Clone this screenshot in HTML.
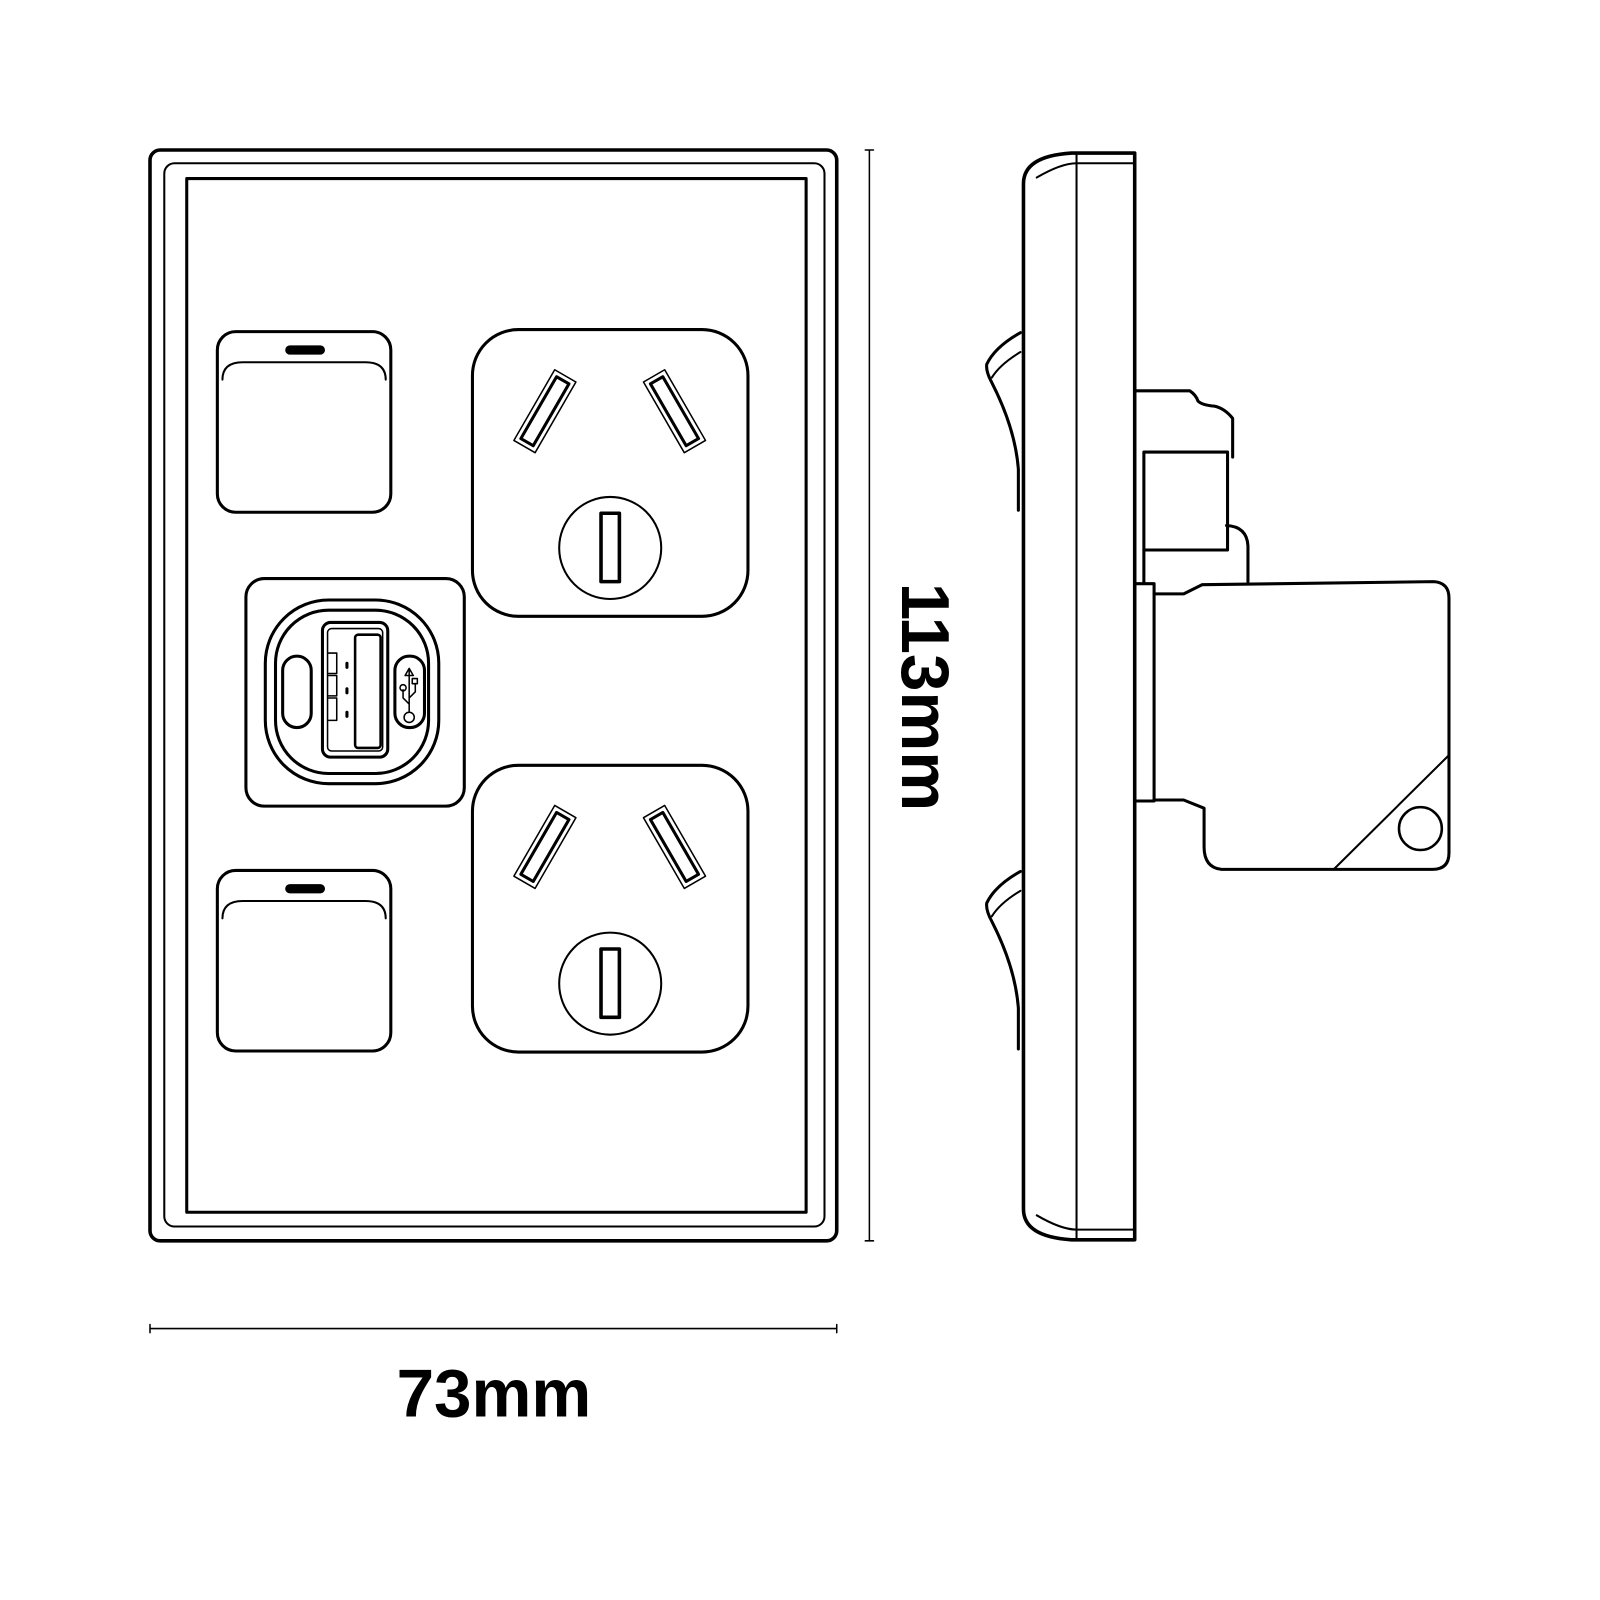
<!DOCTYPE html>
<html><head><style>html,body{margin:0;padding:0;background:#fff}svg{display:block}</style></head>
<body>
<svg width="1600" height="1600" viewBox="0 0 1568 1568" xmlns="http://www.w3.org/2000/svg" fill="none" stroke="#000" stroke-linejoin="round" stroke-linecap="round">
<!-- plate -->
<rect x="147" y="147" width="673" height="1069" rx="10" stroke-width="3.5"/>
<rect x="161" y="160" width="647" height="1042" rx="10" stroke-width="2"/>
<rect x="183" y="175" width="607" height="1013" stroke-width="3"/>
<!-- switches -->
<g id="sw">
<rect x="213" y="325" width="170" height="177" rx="18" stroke-width="3"/>
<path d="M218 372 Q218 355 238 355 L358 355 Q378 355 378 372" stroke-width="2"/>
<rect x="280" y="339" width="38" height="8" rx="4" fill="#000"/>
</g>
<use href="#sw" y="528"/>
<!-- sockets -->
<g id="so">
<rect x="463" y="323" width="270" height="281" rx="45" stroke-width="3"/>
<g transform="translate(534,403) rotate(30)"><rect x="-12" y="-40" width="24" height="80" stroke-width="1.5"/><rect x="-7" y="-35" width="14" height="70" stroke-width="3"/></g>
<g transform="translate(661,403) rotate(-30)"><rect x="-12" y="-40" width="24" height="80" stroke-width="1.5"/><rect x="-7" y="-35" width="14" height="70" stroke-width="3"/></g>
<circle cx="598" cy="537" r="50" stroke-width="2"/>
<rect x="589" y="503" width="18" height="67" stroke-width="3.5"/>
</g>
<use href="#so" y="427"/>
<!-- USB -->
<rect x="241" y="567" width="214" height="223" rx="18" stroke-width="3"/>
<rect x="260" y="588" width="170" height="180" rx="62" stroke-width="3"/>
<rect x="270" y="598" width="150" height="160" rx="52" stroke-width="3"/>
<rect x="277" y="643" width="28" height="70" rx="14" stroke-width="3"/>
<rect x="316" y="610" width="64" height="132" rx="8" stroke-width="3"/>
<rect x="321" y="616" width="54" height="120" rx="4" stroke-width="1.5"/>
<rect x="348" y="622" width="25" height="111" rx="3" stroke-width="2.5"/>
<path d="M322 640h8v20h-8M322 662h8v20h-8M322 684h8v22h-8" stroke-width="1.5"/>
<path d="M340 650v4M340 675v4M340 698v4" stroke-width="3"/>
<rect x="387" y="643" width="29" height="70" rx="14" stroke-width="3"/>
<path d="M401 655v43M397 662l4-7 4 7zM401 690l-6-6v-8M401 684l6-6v-8" stroke-width="1.5"/>
<circle cx="395" cy="674" r="3" stroke-width="1.5"/><rect x="404" y="665" width="5" height="5" stroke-width="1.5"/><circle cx="401" cy="703" r="5" stroke-width="1.5"/>
<!-- side view -->
<path d="M1003 1185 V180 Q1003 153 1050 150 H1112 V1215 H1050 Q1003 1212 1003 1185" stroke-width="3.5"/>
<path d="M1055 150 V1215" stroke-width="2"/>
<path d="M1016 174 Q1040 160 1055 160 H1112" stroke-width="2"/>
<path d="M1016 1191 Q1040 1205 1055 1205 H1112" stroke-width="2"/>
<g id="rk"><path d="M1000 326 Q975 340 967 357 Q966 364 972 375 Q995 420 998 460 V500" stroke-width="3"/>
<path d="M1000 345 Q980 357 972 370" stroke-width="2"/></g>
<use href="#rk" y="528"/>
<path d="M1112 383 H1166 Q1172 387 1174 393 Q1178 397 1190 398 Q1200 400 1208 410 V448" stroke-width="3"/>
<rect x="1121" y="443" width="82" height="96" stroke-width="3"/>
<path d="M1202 515 Q1222 516 1223 535 V570" stroke-width="3"/>
<path d="M1121 539 V570" stroke-width="3"/>
<rect x="1112" y="572" width="19" height="213" stroke-width="3"/>
<path d="M1131 582 H1160 L1178 573 L1405 570 Q1420 571 1420 586 V836 Q1420 852 1404 852 H1197 Q1180 850 1180 830 V792 L1160 784 H1131" stroke-width="3"/>
<path d="M1307 852 L1420 740" stroke-width="2"/>
<circle cx="1392" cy="812" r="21" stroke-width="2.5"/>
<!-- dimensions -->
<path d="M852 147 V1216 M848 147 H856 M848 1216 H856" stroke-width="1.5"/>
<path d="M147 1302 H820 M147 1298 V1306 M820 1298 V1306" stroke-width="1.5"/>
<text x="484" y="1388" font-family="Liberation Sans, sans-serif" font-size="66" font-weight="bold" fill="#000" stroke="none" text-anchor="middle">73mm</text>
<text transform="translate(884,683) rotate(90)" x="0" y="0" font-family="Liberation Sans, sans-serif" font-size="66" font-weight="bold" fill="#000" stroke="none" text-anchor="middle">113mm</text>
</svg>
</body></html>
